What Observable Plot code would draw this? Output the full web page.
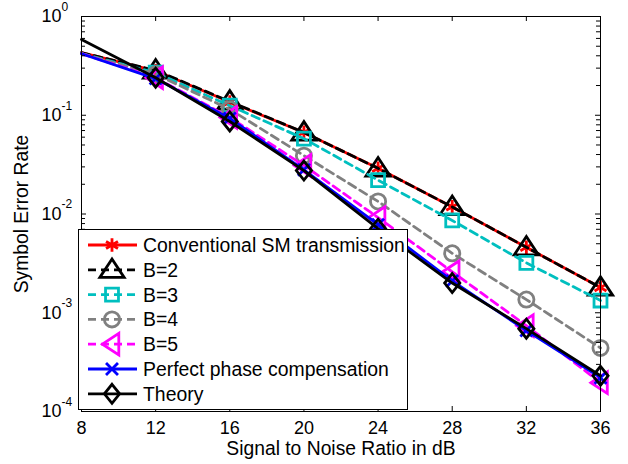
<!DOCTYPE html>
<html><head><meta charset="utf-8">
<script src="https://cdn.jsdelivr.net/npm/d3@7"></script>
<script src="https://cdn.jsdelivr.net/npm/@observablehq/plot@0.6"></script>
<style>body{margin:0;background:#fff;} svg{display:block;}</style>
</head><body><div id="chart"></div>
<script>
// ---- data ----
const snr = [8, 12, 16, 20, 24, 28, 32, 36];
const conventional = [0.43, 0.282, 0.136, 0.067, 0.029, 0.0118, 0.0046, 0.0018];
const b2 = [0.43, 0.285, 0.138, 0.067, 0.029, 0.0118, 0.0046, 0.0018];
const b3 = [0.42, 0.27, 0.125, 0.058, 0.022, 0.0086, 0.0032, 0.00133];
const b4 = [0.42, 0.26, 0.115, 0.039, 0.0134, 0.0040, 0.00136, 0.00044];
const b5 = [0.42, 0.24, 0.095, 0.031, 0.0092, 0.0026, 0.00074, 0.000196];
const perfect = [0.42, 0.235, 0.093, 0.028, 0.0078, 0.0021, 0.00066, 0.00022];
const theory = [0.585, 0.24, 0.0865, 0.0275, 0.0071, 0.0020, 0.00069, 0.00023];
const seriesNames = ["Conventional SM transmission", "B=2", "B=3", "B=4", "B=5", "Perfect phase compensation", "Theory"];
const seriesValues = [conventional, b2, b3, b4, b5, perfect, theory];
const xTicks = [8, 12, 16, 20, 24, 28, 32, 36];
const yTicks = [1e-4, 1e-3, 1e-2, 1e-1, 1];
const yTickBase = "10";
const yTickExps = ["-4", "-3", "-2", "-1", "0"];
const xLabel = "Signal to Noise Ratio in dB";
const yLabel = "Symbol Error Rate";

// ---- styles ----
const diamond = {draw(ctx, size) {
  const r = Math.sqrt(size / Math.PI);
  ctx.moveTo(0, -r * 1.25); ctx.lineTo(r, 0); ctx.lineTo(0, r * 1.25); ctx.lineTo(-r, 0); ctx.closePath();
}};
const triangle = {draw(ctx, size) {
  const r = Math.sqrt(size / Math.PI);
  ctx.moveTo(0, -r * 1.2); ctx.lineTo(r * 1.35, r * 0.85); ctx.lineTo(-r * 1.35, r * 0.85); ctx.closePath();
}};
const styles = [
  {color: "#ff0000", dash: null, symbol: "asterisk", r: 6.5, rotate: 0},
  {color: "#000000", dash: "8,5", symbol: triangle, r: 9, rotate: 0},
  {color: "#00bfbf", dash: "8,5", symbol: "square", r: 7.3, rotate: 0},
  {color: "#808080", dash: "8,5", symbol: "circle", r: 7.6, rotate: 0},
  {color: "#ff00ff", dash: "8,5", symbol: triangle, r: 8, rotate: -90},
  {color: "#0000ff", dash: null, symbol: "times", r: 5.5, rotate: 0},
  {color: "#000000", dash: null, symbol: diamond, r: 7.6, rotate: 0}
];
const d3Sym = {asterisk: d3.symbolAsterisk, square: d3.symbolSquare, circle: d3.symbolCircle, times: d3.symbolTimes};

const W = 628, H = 464, mL = 81, mR = 28, mT = 16, mB = 53;
const FW = W - mL - mR, FH = H - mT - mB;
const font = "Liberation Sans, Arial, Helvetica, sans-serif";
const LW = 2.8;

const minorTicks = [];
for (let k = -4; k < 0; k++) for (let m = 2; m <= 9; m++) minorTicks.push(m * Math.pow(10, k));

const marks = [];
seriesValues.forEach((vals, i) => {
  const s = styles[i];
  const pts = snr.map((x, j) => ({x, y: vals[j]}));
  marks.push(Plot.line(pts, {x: "x", y: "y", stroke: s.color, strokeWidth: LW, strokeDasharray: s.dash}));
  marks.push(Plot.dot(pts.slice(1), {x: "x", y: "y", symbol: s.symbol, r: s.r, stroke: s.color, strokeWidth: LW, fill: "none", rotate: s.rotate}));
});

const plot = Plot.plot({
  width: W, height: H,
  marginLeft: mL, marginRight: mR, marginTop: mT, marginBottom: mB,
  style: {fontFamily: font, background: "white", color: "black", overflow: "visible"},
  x: {domain: [8, 36], axis: null},
  y: {type: "log", domain: [1e-4, 1], axis: null},
  marks: [
    ...marks,
    Plot.frame({stroke: "black", strokeWidth: 1}),
    // inner ticks
    Plot.ruleX(xTicks, {x: d => d, insetTop: FH - 5, stroke: "black", strokeWidth: 1}),
    Plot.ruleX(xTicks, {x: d => d, insetBottom: FH - 5, stroke: "black", strokeWidth: 1}),
    Plot.ruleY(yTicks, {y: d => d, insetRight: FW - 5, stroke: "black", strokeWidth: 1}),
    Plot.ruleY(yTicks, {y: d => d, insetLeft: FW - 5, stroke: "black", strokeWidth: 1}),
    Plot.ruleY(minorTicks, {y: d => d, insetRight: FW - 4, stroke: "black", strokeWidth: 1}),
    Plot.ruleY(minorTicks, {y: d => d, insetLeft: FW - 4, stroke: "black", strokeWidth: 1}),
    // tick labels
    Plot.text(xTicks, {x: d => d, frameAnchor: "bottom", dy: 17, text: d => String(d), fontSize: 18, lineAnchor: "middle", fill: "black"}),
    Plot.text(yTicks, {y: d => d, frameAnchor: "left", dx: -40, text: () => yTickBase, textAnchor: "start", fontSize: 18, lineAnchor: "middle", fill: "black"}),
    Plot.text(yTicks, {y: d => d, frameAnchor: "left", dx: -20, dy: -9.5, text: (d, i) => yTickExps[i], textAnchor: "start", fontSize: 12, lineAnchor: "middle", fill: "black"}),
    // axis labels
    Plot.text([xLabel], {frameAnchor: "bottom", dy: 37.5, text: d => d, fontSize: 19.3, lineAnchor: "middle", textAnchor: "middle", fill: "black"}),
    Plot.text([yLabel], {frameAnchor: "left", dx: -59.5, rotate: -90, text: d => d, fontSize: 19.3, lineAnchor: "middle", textAnchor: "middle", fill: "black"})
  ]
});

// ---- legend ----
const svg = d3.select(plot);
const lg = svg.append("g").attr("font-family", font).attr("text-anchor", "start");
lg.append("rect").attr("x", 78.5).attr("y", 229.5).attr("width", 329).attr("height", 180)
  .attr("fill", "white").attr("stroke", "black").attr("stroke-width", 1);
seriesNames.forEach((name, i) => {
  const s = styles[i];
  const y = 245 + i * 24.8;
  const ln = lg.append("line").attr("x1", 88).attr("x2", 137).attr("y1", y).attr("y2", y)
    .attr("stroke", s.color).attr("stroke-width", LW);
  if (s.dash) ln.attr("stroke-dasharray", s.dash);
  const symType = typeof s.symbol === "string" ? d3Sym[s.symbol] : s.symbol;
  lg.append("path").attr("d", d3.symbol(symType, Math.PI * s.r * s.r)())
    .attr("transform", `translate(112,${y}) rotate(${s.rotate})`)
    .attr("fill", "none").attr("stroke", s.color).attr("stroke-width", LW);
  lg.append("text").attr("x", 143).attr("y", y).attr("dy", "0.36em").attr("font-size", 19.4)
    .attr("text-anchor", "start").attr("fill", "black").text(name);
});

document.getElementById("chart").appendChild(plot);
</script>
</body></html>
